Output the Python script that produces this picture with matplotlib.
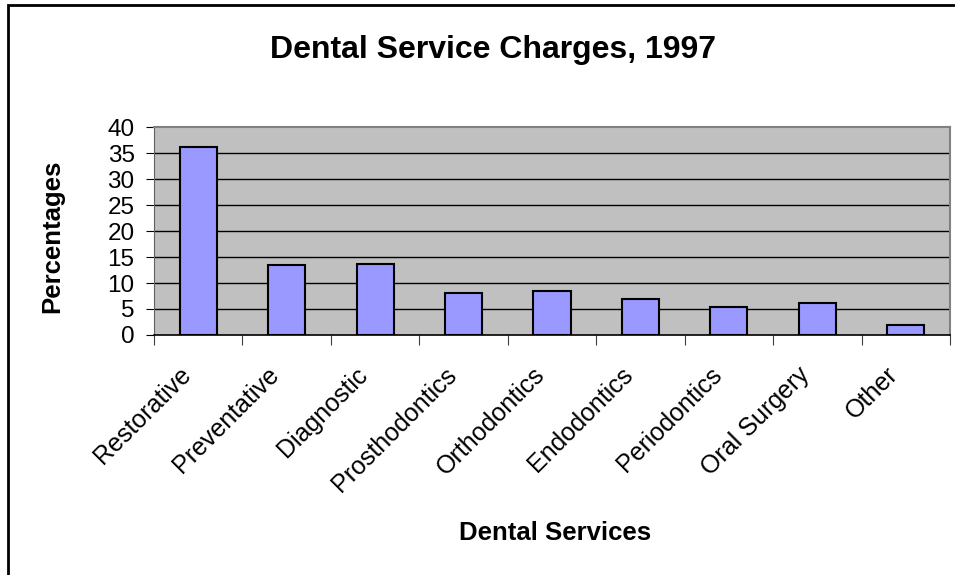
import matplotlib.pyplot as plt
from matplotlib.patches import Rectangle

services = ["Restorative", "Preventative", "Diagnostic", "Prosthodontics",
            "Orthodontics", "Endodontics", "Periodontics", "Oral Surgery", "Other"]
percentages = [36.1, 13.4, 13.7, 8.1, 8.4, 6.9, 5.4, 6.2, 1.9]
y_ticks = [0, 5, 10, 15, 20, 25, 30, 35, 40]

plt.rcParams['font.family'] = ['Liberation Sans', 'DejaVu Sans']

fig = plt.figure(figsize=(9.55, 5.75), dpi=100)
ax = fig.add_axes([0.1613, 0.4174, 0.8335, 0.3617])
ax.set_facecolor('#c0c0c0')

x = list(range(len(services)))
ax.bar(x, percentages, width=0.42, color='#9999ff', edgecolor='black',
       linewidth=1.5, zorder=3)

ax.set_xlim(-0.5, len(services) - 0.5)
ax.set_ylim(0, 40)
ax.set_yticks(y_ticks)
ax.set_yticklabels([str(v) for v in y_ticks], fontsize=17.5)
for v in y_ticks[1:-1]:
    ax.axhline(v, color='black', linewidth=1.0, zorder=1)

# ticks sit on the category boundaries
ax.set_xticks([i - 0.5 for i in range(len(services) + 1)])
ax.set_xticklabels([])
ax.tick_params(axis='x', length=7, width=0.8, color='#404040')
ax.tick_params(axis='y', length=6, width=0.8, pad=8)

# slanted category names under each bar
for i, name in zip(x, services):
    ax.annotate(name, xy=(i, 0), xycoords=('data', 'axes fraction'),
                xytext=(-8, -26), textcoords='offset points', rotation=45,
                ha='right', va='center', rotation_mode='anchor', fontsize=18)

for side in ['top', 'right']:
    ax.spines[side].set_color('#808080')
    ax.spines[side].set_linewidth(1.5)
ax.spines['left'].set_color('#606060')
ax.spines['bottom'].set_color('black')
ax.spines['bottom'].set_linewidth(1.2)

fig.text(52 / 955, 0.5896, "Percentages", fontsize=18.5, fontweight='bold',
         rotation=90, ha='center', va='center')
fig.text(0.581, 0.073, "Dental Services", fontsize=18.5, fontweight='bold',
         ha='center', va='center')
fig.text(0.516, 0.913, "Dental Service Charges, 1997", fontsize=23,
         fontweight='bold', ha='center', va='center')

# chart border, right and bottom edges fall outside the canvas
fig.patches.append(Rectangle((8 / 955, -0.1), 1.1, 1.1 - 5 / 575,
                             transform=fig.transFigure, fill=False,
                             edgecolor='black', linewidth=2))

fig.savefig('out.png', dpi=100)
